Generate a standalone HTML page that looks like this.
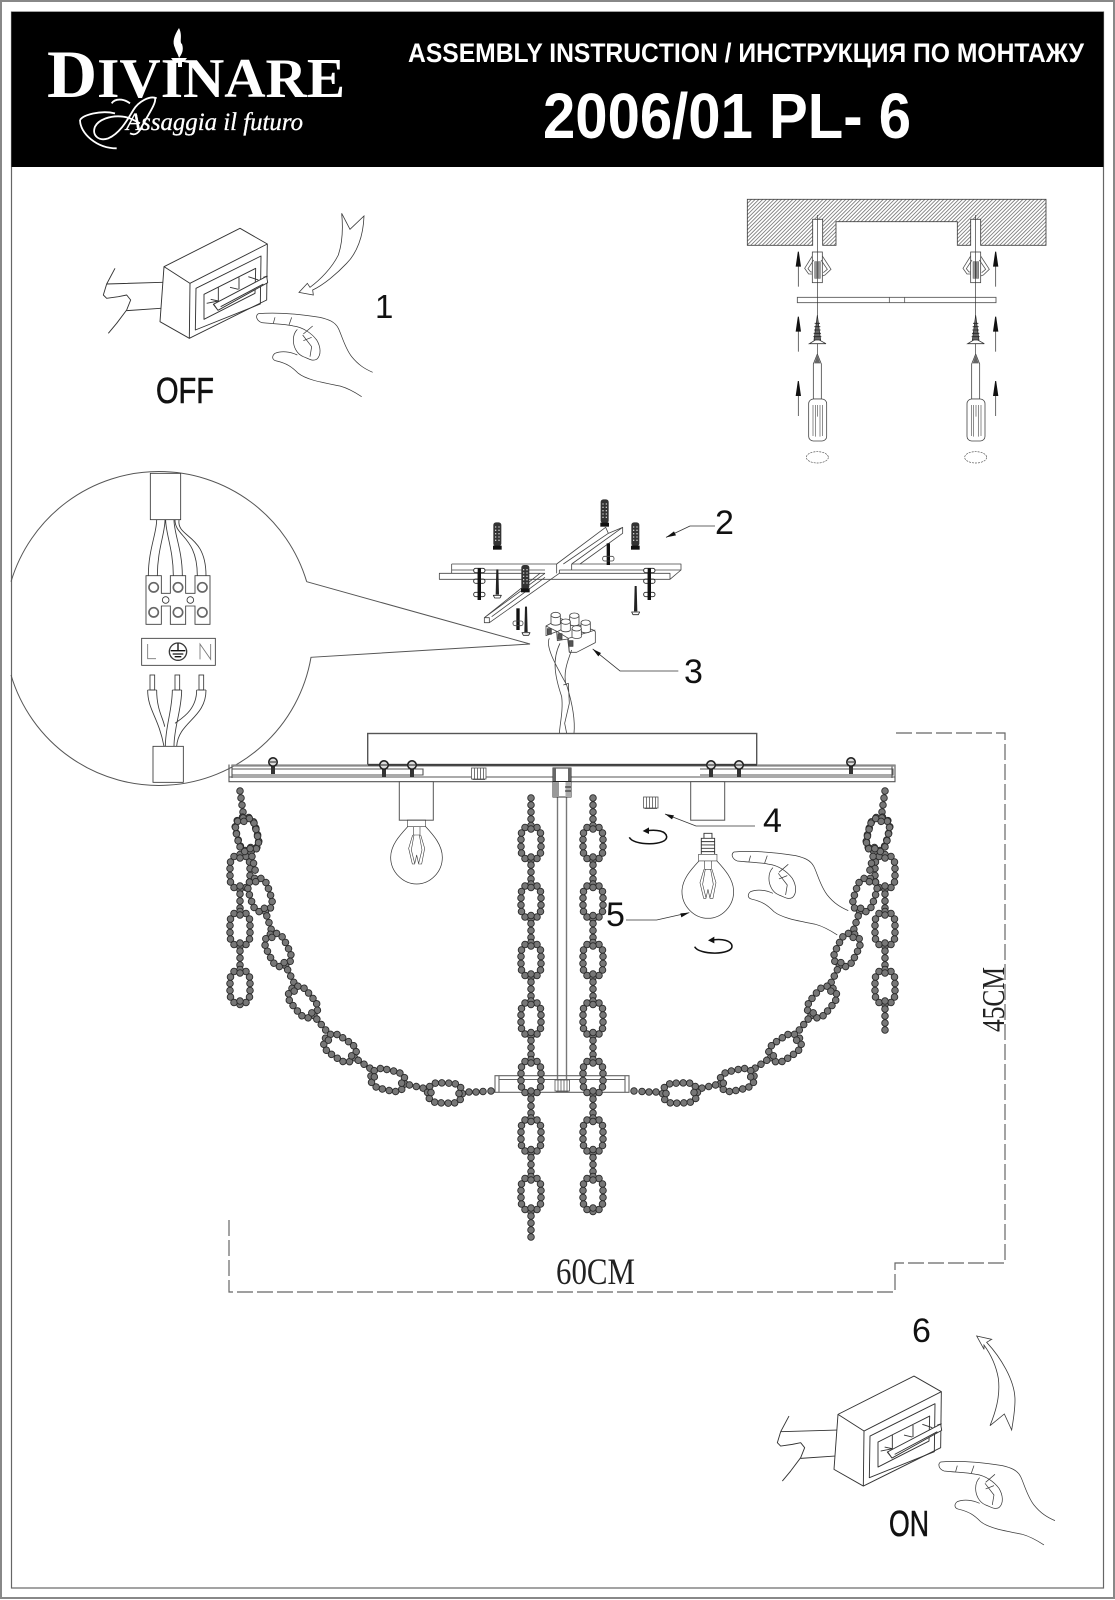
<!DOCTYPE html>
<html><head><meta charset="utf-8"><style>
html,body{margin:0;padding:0;background:#fff}
svg{display:block}
text{font-family:"Liberation Sans",sans-serif}
</style></head><body>
<svg xmlns="http://www.w3.org/2000/svg" width="1115" height="1600" viewBox="0 0 1115 1600">
<defs>
<pattern id="h" width="8" height="8" patternUnits="userSpaceOnUse" patternTransform="rotate(45)"><rect width="8" height="8" fill="#fff"/><rect width="2.6" height="8" fill="#7c7c7c"/></pattern>
<g id="B"><circle r="3.3" fill="#777" stroke="#2a2a2a" stroke-width=".9"/></g>
<g id="L">
<use href="#B" x="0" y="-17.5"/><use href="#B" x="6" y="-15.5"/><use href="#B" x="9.5" y="-10"/><use href="#B" x="10" y="-3.5"/><use href="#B" x="10" y="3.5"/><use href="#B" x="9.5" y="10"/><use href="#B" x="6" y="15.5"/><use href="#B" x="0" y="17.5"/><use href="#B" x="-6" y="15.5"/><use href="#B" x="-9.5" y="10"/><use href="#B" x="-10" y="3.5"/><use href="#B" x="-10" y="-3.5"/><use href="#B" x="-9.5" y="-10"/><use href="#B" x="-6" y="-15.5"/>
<use href="#B" x="0" y="-14"/><use href="#B" x="0" y="14"/>
</g>
<g id="S"><use href="#L"/><use href="#B" y="22"/><use href="#B" y="29"/><use href="#B" y="36"/></g>
<g id="sc"><rect x="-2" y="2" width="4" height="10" fill="#333"/><circle r="4.2" fill="#ddd" stroke="#222" stroke-width="1.6"/><path d="M-3 0H3" stroke="#222"/></g>
<g id="knurl" fill="#fff" stroke="#555" stroke-width=".8"><rect x="0" y="0" width="14.5" height="11"/><path d="M3 0V11M6 0V11M9 0V11M12 0V11M1 11.6H13.5"/></g>
<g id="ua"><path d="M0 0V-62" stroke="#444" stroke-width="2.4"/><path d="M-8 -60H8L1.5 -105H-1.5Z" fill="#111"/></g>
<g id="col">
<rect x="247" y="186" width="30" height="92" fill="#fff" stroke="#444" stroke-width="2.4"/>
<rect x="254" y="215" width="7" height="50" fill="#999" stroke="#555" stroke-width="1.5"/><rect x="264" y="215" width="7" height="50" fill="#999" stroke="#555" stroke-width="1.5"/>
<path d="M247 198L224 235L236 252L247 252M251 210L234 236L242 246L247 246M277 198L303 238L285 255L277 258M273 210L292 238L280 248" fill="none" stroke="#555" stroke-width="2.4"/>
<path d="M262 75V520" stroke="#333" stroke-width="2" fill="none"/>
<path d="M262 375L252 450H272Z" fill="#666" stroke="#222" stroke-width="2"/>
<path d="M254 400H270M253 410H271M252 420H272M251 430H273M250 440H274" stroke="#222" stroke-width="2.4"/>
<path d="M238 461H288L268 450H256Z" fill="#fff" stroke="#333" stroke-width="2.4"/>
<path d="M262 492L250 522V627H274V522Z" fill="#fff" stroke="#444" stroke-width="2.4"/>
<path d="M262 495L253 520H271Z" fill="#666"/>
<rect x="236" y="627" width="54" height="126" rx="14" fill="#fff" stroke="#444" stroke-width="2.4"/>
<path d="M249 645V738M256 645V740M263 645V680M270 645V740M278 645V738" stroke="#555" stroke-width="2" fill="none"/>
<ellipse cx="262" cy="802" rx="33" ry="17" fill="none" stroke="#555" stroke-width="2" stroke-dasharray="6 3"/>
</g>
<g id="sw" fill="none" stroke="#333" stroke-width="2.8" stroke-linejoin="round">
<path d="M75 205L50 252L40 285L50 295L85 290L110 285L122 300L110 330L80 370L55 400M50 252L218 247M110 332L212 325"/>
<path d="M222 200L450 85L532 132L300 250ZM222 200L210 365L298 415L300 250M532 132L530 300L298 415"/>
<path d="M318 265L513 168L511 312L316 390ZM342 283L497 205L495 280L342 358Z"/>
<path d="M385 262V318M447 232V268M362 298L385 303M420 262L445 268M475 230L505 240M385 303L350 310"/>
<path d="M370 313L530 229L533 248L384 331ZM372 314L384 331M392 320L520 252M520 232L533 228" fill="#fff"/>
</g>
<g id="hand" fill="none" stroke="#3a3a3a" stroke-width="2.2" stroke-linejoin="round">
<path d="M505 341C540 338 600 338 690 352C715 358 735 365 745 385C755 405 765 445 785 470C805 495 825 507 848 517"/>
<path d="M505 341C495 348 500 362 515 368C550 372 585 372 610 378C640 382 665 400 680 420C692 440 695 465 680 478C665 485 655 475 640 470C620 462 610 440 610 420C610 405 615 395 622 388"/>
<path d="M622 465C600 455 575 452 555 460C545 468 545 480 560 483C590 490 605 500 625 520C650 540 700 548 750 558C775 565 800 580 815 590"/>
<path d="M555 352L550 370M605 352L597 375M668 378L640 402M638 405L665 440L660 470M665 412L640 422"/>
</g>
<g id="bulb" fill="none" stroke="#3a3a3a" stroke-width="2.2"><path d="M563 320C540 345 512 375 512 412C512 455 548 492 590 492C632 492 667 455 667 412C667 375 640 345 617 320"/><path d="M562 320H617V300H562ZM580 320V345H600V320M578 345L566 385L577 432H584L590 405L596 432H605L614 385L602 345M582 345L574 390L584 430M598 345L606 390L596 430" stroke-width="1.8"/></g>
<g id="rot" fill="none" stroke="#111"><path d="M208 352C220 378 322 378 320 350C318 333 290 328 262 332" stroke-width="4.6"/><path d="M248 333L267 322V342Z" fill="#111" stroke="none"/></g>
<g id="anc"><rect x="-12" y="0" width="24" height="72" rx="8" fill="#333"/><rect x="-13" y="70" width="26" height="12" fill="#111"/><path d="M-5 12V62M5 12V62" stroke="#ddd" stroke-width="3.5" stroke-dasharray="4 6"/></g>
<g id="scr"><path d="M-3 0H3L5 76H-5Z" fill="#222"/><path d="M-12 78H12L8 86H-8Z" fill="#fff" stroke="#222" stroke-width="2.4"/></g>
<g id="bolt"><rect x="-5" y="0" width="10" height="95" fill="#111"/><rect x="-17" y="0" width="34" height="13" rx="6" fill="#fff" stroke="#222" stroke-width="2.6"/><rect x="-17" y="32" width="34" height="13" rx="6" fill="none" stroke="#222" stroke-width="2.6"/><rect x="-17" y="72" width="34" height="13" rx="6" fill="none" stroke="#222" stroke-width="2.6"/><rect x="-5" y="0" width="10" height="95" fill="#111"/></g>
<g id="cyl"><path d="M-14 0V26C-8 32 8 32 14 26V0" fill="#fff" stroke="#444" stroke-width="2.4"/><ellipse rx="14" ry="8" fill="#fff" stroke="#444" stroke-width="2.4"/></g>
</defs>

<rect width="1115" height="1600" fill="#fff"/>
<rect x="1" y="1" width="1113" height="1597" fill="none" stroke="#888" stroke-width="2"/>
<rect x="11.5" y="12" width="1092" height="1576" fill="none" stroke="#666" stroke-width="1.2"/>

<!-- header -->
<rect x="11.5" y="12" width="1092" height="155" fill="#000"/>
<text x="408" y="62" font-size="27" font-weight="700" fill="#fff" textLength="676" lengthAdjust="spacingAndGlyphs">ASSEMBLY INSTRUCTION / ИНСТРУКЦИЯ ПО МОНТАЖУ</text>
<text x="543" y="138" font-size="64" font-weight="700" fill="#fff" textLength="368" lengthAdjust="spacingAndGlyphs">2006/01 PL- 6</text>
<text x="47" y="97" fill="#fff" textLength="298" lengthAdjust="spacingAndGlyphs" style="font-family:'Liberation Serif',serif;font-size:56px;font-weight:700"><tspan font-size="68">D</tspan>IVINARE</text>
<path d="M179 28C174 36 172 42 175 48C176 52 178 54 179 58C182 54 184 50 182 44C179 42 183 36 179 28Z" fill="#fff"/>
<path d="M171 58H187L184 62H182V67H178V62H174Z" fill="#fff"/>
<text x="126" y="130" fill="#fff" stroke="#fff" stroke-width=".3" font-style="italic" textLength="177" lengthAdjust="spacingAndGlyphs" style="font-family:'Liberation Serif',serif;font-size:25px">Assaggia il futuro</text>
<g transform="translate(40 20) scale(.33333)" fill="none" stroke="#fff" stroke-width="5.5">
<path d="M350 235C330 225 295 245 280 270C262 300 240 340 205 355C175 365 155 345 165 320C175 300 210 285 250 290C270 292 290 305 300 310"/>
<path d="M345 235C350 250 320 290 300 330C290 345 280 345 270 340"/>
<path d="M120 300C130 285 180 270 225 280M120 300C120 340 170 385 230 385M215 250C225 235 250 235 270 250"/>
</g>

<!-- step 1 -->
<g transform="translate(90 200) scale(.33333)">
<use href="#sw"/><use href="#hand"/>
<path d="M755 40L780 88L822 48C820 110 800 160 770 190C740 222 700 255 668 270L670 285L627 277L652 250L660 262C690 240 725 205 745 165C755 135 760 90 755 40Z" fill="none" stroke="#3a3a3a" stroke-width="2.4"/>
</g>
<text x="375" y="318" font-size="33" fill="#111">1</text>
<text x="156" y="403" font-size="36" fill="#111" stroke="#111" stroke-width=".6" textLength="58" lengthAdjust="spacingAndGlyphs">OFF</text>

<!-- top right -->
<g transform="translate(730 190) scale(.33333)">
<path d="M52 28H948V166H752V88H722V166H682V95H318V166H278V88H248V166H52Z" fill="url(#h)" stroke="#444" stroke-width="2.6"/>
<rect x="202" y="322" width="596" height="16" fill="#fff" stroke="#555" stroke-width="2.6"/>
<path d="M478 322V338M524 322V338" stroke="#555" stroke-width="2.4"/>
<use href="#col"/><use href="#col" x="475"/>
<use href="#ua" x="205" y="290"/><use href="#ua" x="205" y="485"/><use href="#ua" x="205" y="678"/>
<use href="#ua" x="797" y="290"/><use href="#ua" x="797" y="485"/><use href="#ua" x="797" y="678"/>
</g>

<!-- wiring bubble -->
<path d="M306.7 581.7A154.3 154.3 0 0 0 11 581.7M11 675A154.3 154.3 0 0 0 311 657.3L530 644L306.7 581.7" fill="none" stroke="#555" stroke-width="1"/>
<g transform="translate(0 470) scale(.33333)" fill="none" stroke="#3a3a3a" stroke-width="2.6">
<rect x="451" y="10" width="91" height="139"/>
<path d="M470 150C470 190 445 240 445 317M495 150C495 190 472 240 472 317M497 150C497 190 520 240 520 317M522 150C522 190 547 240 547 317M525 150C525 200 592 200 592 317M537 150C530 205 618 190 618 317"/>
<path d="M438 317H484V370H511V317H557V370H585V317H630V463H585V408H557V463H511V408H484V463H438Z"/>
<g stroke-width="5" stroke="#666"><circle cx="461" cy="352" r="14"/><circle cx="534" cy="352" r="14"/><circle cx="607" cy="352" r="14"/><circle cx="461" cy="427" r="14"/><circle cx="534" cy="427" r="14"/><circle cx="607" cy="427" r="14"/></g>
<circle cx="497" cy="390" r="10"/><circle cx="571" cy="390" r="10"/>
<rect x="425" y="505" width="221" height="81"/>
<path d="M443 522V566H468M600 568V522L632 568V522" stroke="#777"/>
<circle cx="534" cy="545" r="26" stroke-width="4"/>
<path d="M534 520V542M512 542H556M518 552H550M524 560H544" stroke-width="4" stroke="#111"/>
<rect x="450" y="615" width="14" height="45"/><rect x="525" y="615" width="14" height="45"/><rect x="597" y="615" width="14" height="45"/>
<path d="M443 660H470M517 660H545M590 660H618"/>
<path d="M443 660C443 720 475 740 492 829M470 660C470 720 490 745 494 770M517 660C517 720 496 770 496 829M545 660C545 720 522 770 522 829M590 660C590 720 545 745 525 760M618 660C618 745 535 755 530 829"/>
<rect x="459" y="829" width="91" height="108"/>
</g>

<!-- mount -->
<g transform="translate(420 490) scale(.33333)" fill="none" stroke="#444" stroke-width="2.4" stroke-linejoin="round">
<path d="M95 222H410M455 222H783V240L750 268H58V250H95V222M95 240H375M418 240H783M58 250H375M418 250H750V268"/>
<path d="M410 222L557 112L565 130L430 222M455 222L608 112V130L480 222M565 130L608 112"/>
<path d="M375 250L193 383V398H208L418 250M193 383H208V398M360 250L193 383M375 262L215 380"/>
<path d="M410 222V250M455 222V240M418 240V250"/>
<use href="#anc" x="232" y="97" stroke="none"/><use href="#anc" x="554" y="28" stroke="none"/><use href="#anc" x="646" y="97" stroke="none"/><use href="#anc" x="316" y="225" stroke="none"/>
<use href="#scr" x="232" y="238" stroke="none"/><use href="#scr" x="647" y="288" stroke="none"/><use href="#scr" x="318" y="350" stroke="none"/>
<use href="#bolt" x="178" y="235" stroke="none"/><use href="#bolt" x="688" y="235" stroke="none"/>
<rect x="289" y="355" width="10" height="65" fill="#111" stroke="none"/><rect x="279" y="393" width="30" height="14" rx="6"/>
<rect x="560" y="160" width="10" height="65" fill="#111" stroke="none"/><rect x="548" y="199" width="34" height="14" rx="6"/>
<path d="M885 108H810L738 142" stroke="#333"/><path d="M738 142L762 124L768 136Z" fill="#111" stroke="none"/>
<path d="M775 543H600L518 477" stroke="#333"/><path d="M518 477L543 489L535 499Z" fill="#111" stroke="none"/>
<path d="M378 408L420 385L520 420L526 425V458L470 487H448L443 447L412 452L410 425L378 437Z" fill="#fff"/>
<path d="M378 408L412 425L445 445L448 487M445 445L526 420M412 425L470 395"/>
<rect x="382" y="416" width="12" height="17" fill="#555"/><rect x="414" y="431" width="12" height="17" fill="#555"/><rect x="447" y="452" width="12" height="17" fill="#555"/>
<use href="#cyl" x="407" y="375"/><use href="#cyl" x="463" y="377"/><use href="#cyl" x="437" y="395"/><use href="#cyl" x="497" y="398"/><use href="#cyl" x="470" y="415"/>
<path d="M388 445C375 470 410 530 440 585C460 650 465 700 462 730M420 460C395 510 405 560 425 620C430 660 420 700 418 730M455 480C440 520 430 550 438 585M430 585L445 580L448 640L434 700L440 730"/>
</g>

<!-- lamp body -->
<rect x="367.7" y="733.5" width="389" height="31" fill="#fff" stroke="#555" stroke-width="1.4"/>
<path d="M229 764.5V781.7H895V764.5M232 769H423V775H232M700 775H893V769H700M232 764.5V778M892 764.5V778M229 777H895" fill="none" stroke="#555" stroke-width="1.1"/>
<path d="M232 765.5H895" stroke="#888" stroke-width="2.2"/>
<path d="M368 765H757" stroke="#333" stroke-width="1.4"/>
<use href="#sc" x="273" y="762"/><use href="#sc" x="384" y="765"/><use href="#sc" x="412" y="765"/><use href="#sc" x="711" y="765"/><use href="#sc" x="739" y="765"/><use href="#sc" x="851" y="762"/>
<use href="#knurl" x="471.5" y="768"/>
<use href="#knurl" x="643.5" y="797"/>
<path d="M557.5 797V1092M566.5 797V1092" stroke="#777" stroke-width="1.4"/>
<rect x="553" y="768" width="18" height="29" fill="#fff" stroke="#333" stroke-width="1"/>
<rect x="553" y="768" width="3" height="13" fill="#666"/><rect x="568" y="768" width="3" height="13" fill="#666"/>
<rect x="553" y="782" width="6" height="15" fill="#999"/><rect x="565.5" y="782" width="5.5" height="15" fill="#aaa"/>
<path d="M553 781.5H571M565 787H571M565 791H571" stroke="#222" stroke-width="1"/>
<rect x="399.3" y="781.7" width="34" height="38.5" fill="#fff" stroke="#555"/>
<rect x="690.7" y="781.7" width="34" height="38.5" fill="#fff" stroke="#555"/>
<g transform="translate(220 720) scale(.33333)"><use href="#bulb"/></g>
<g transform="translate(511.3 754.3) scale(.33333)"><use href="#bulb"/>
<path d="M570 300V252H610V300M570 262H610M570 272H610M570 282H610M570 292H610M578 252V237H602V252" fill="none" stroke="#333" stroke-width="2.8"/>
</g>
<g transform="translate(560 720) scale(.33333)">
<use href="#rot"/><use href="#rot" x="196" y="328"/>
<path d="M585 318H408L315 282" fill="none" stroke="#333" stroke-width="2.4"/><path d="M315 282L342 286L336 298Z" fill="#111"/>
<path d="M198 600H290L388 578" fill="none" stroke="#333" stroke-width="2.4"/><path d="M388 578L364 592L361 580Z" fill="#111"/>
</g>
<g transform="translate(565.6 738.3) scale(.33333)"><use href="#hand"/></g>

<!-- bottom plate -->
<path d="M495 1075.7H629V1092.3H495ZM499 1075.7V1092.3M625 1075.7V1092.3M499 1079.5H625" fill="none" stroke="#666" stroke-width="1.1"/>
<use href="#knurl" x="555" y="1080"/>

<!-- centre chains -->
<g id="cc">
<use href="#B" x="531" y="798"/><use href="#B" x="531" y="805"/><use href="#B" x="531" y="812"/><use href="#B" x="531" y="819"/>
<use href="#S" x="531" y="843"/><use href="#S" x="531" y="901.5"/><use href="#S" x="531" y="960"/><use href="#S" x="531" y="1018.5"/><use href="#S" x="531" y="1077"/><use href="#S" x="531" y="1135.5"/><use href="#S" x="531" y="1194"/>
</g>
<use href="#B" x="531" y="1237"/>
<use href="#B" x="593" y="798"/><use href="#B" x="593" y="805"/><use href="#B" x="593" y="812"/><use href="#B" x="593" y="819"/>
<use href="#S" x="593" y="843"/><use href="#S" x="593" y="901.5"/><use href="#S" x="593" y="960"/><use href="#S" x="593" y="1018.5"/><use href="#S" x="593" y="1077"/><use href="#S" x="593" y="1135.5"/><use href="#L" x="593" y="1194"/>

<!-- side chains -->
<g id="side">
<use href="#B" x="240" y="791"/><use href="#B" x="241" y="798"/><use href="#B" x="242" y="805"/><use href="#B" x="243" y="812"/>
<use href="#L" transform="translate(247 834) rotate(-15)"/>
<use href="#S" x="240" y="872"/>
<use href="#S" transform="translate(247 835) rotate(-13)"/>
<use href="#S" transform="translate(260 895) rotate(-18)"/>
<use href="#S" transform="translate(278 950) rotate(-26)"/>
<use href="#S" transform="translate(303 1002) rotate(-39)"/>
<use href="#S" transform="translate(340 1048) rotate(-56)"/>
<use href="#S" transform="translate(388 1080) rotate(-77)"/>
<use href="#L" transform="translate(445 1093) rotate(-88)"/>
<use href="#B" x="469" y="1092"/><use href="#B" x="476" y="1092"/><use href="#B" x="483" y="1091.5"/><use href="#B" x="491" y="1091"/>
<use href="#S" x="240" y="929"/>
</g>
<use href="#L" x="240" y="987"/>
<g transform="translate(1125 0) scale(-1 1)"><use href="#side"/></g>
<use href="#L" x="885" y="987"/>
<use href="#B" x="885" y="1009"/><use href="#B" x="885" y="1016"/><use href="#B" x="885" y="1023"/><use href="#B" x="885" y="1030"/>

<!-- dims -->
<path d="M229 1220V1292H895V1263H1005V733H896" fill="none" stroke="#666" stroke-width="1.2" stroke-dasharray="16 4"/>
<text x="556" y="1284" fill="#222" textLength="79" lengthAdjust="spacingAndGlyphs" style="font-family:'Liberation Serif',serif;font-size:37px">60CM</text>
<text transform="translate(1004 1032) rotate(-90)" fill="#222" textLength="65" lengthAdjust="spacingAndGlyphs" style="font-family:'Liberation Serif',serif;font-size:32px">45CM</text>

<!-- labels -->
<text x="715" y="534" font-size="34" fill="#111">2</text>
<text x="684" y="683" font-size="34" fill="#111">3</text>
<text x="763" y="832" font-size="34" fill="#111">4</text>
<text x="606" y="926" font-size="34" fill="#111">5</text>
<text x="912" y="1342" font-size="34" fill="#111">6</text>
<text x="889" y="1536" font-size="36" fill="#111" stroke="#111" stroke-width=".6" textLength="40" lengthAdjust="spacingAndGlyphs">ON</text>

<!-- step 6 -->
<g transform="translate(764 1347.7) scale(.33333)"><use href="#sw"/></g>
<g transform="translate(772.3 1348.3) scale(.33333)"><use href="#hand"/></g>
<g transform="translate(760 1310) scale(.33333)">
<path d="M650 78L695 88L680 97C720 140 765 210 765 270C765 305 758 340 755 360L733 312L690 347C705 310 722 260 715 205C708 165 690 130 672 105L672 118Z" fill="none" stroke="#3a3a3a" stroke-width="2.4"/>
</g>
</svg>
</body></html>
